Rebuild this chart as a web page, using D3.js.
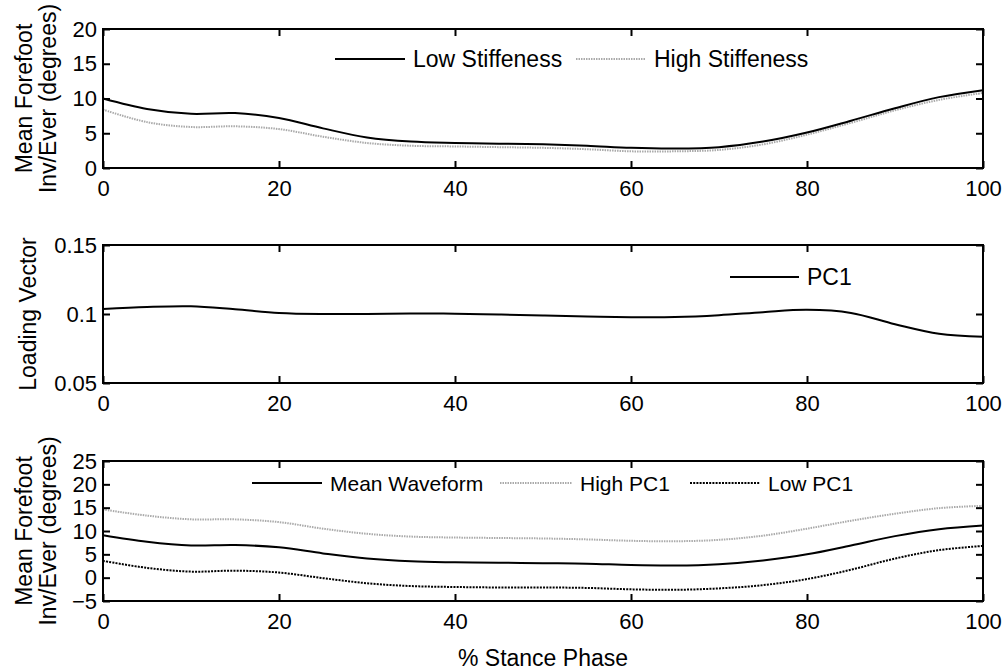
<!DOCTYPE html>
<html>
<head>
<meta charset="utf-8">
<script src="https://cdn.jsdelivr.net/npm/d3@7"></script>
<style>
body { margin: 0; background: #fff; }
text { font-family: "Liberation Sans", Arial, sans-serif; fill: #000; }
</style>
</head>
<body>
<div id="graph"></div>
<script>
// % stance phase
var stance = [0,5,10,15,20,25,30,35,40,45,50,55,60,65,70,75,80,85,90,95,100];

// panel 1
var lowStiff  = [10.0,8.5,7.8,7.9,7.2,5.7,4.4,3.8,3.6,3.5,3.4,3.2,2.9,2.8,3.0,3.8,5.1,6.8,8.6,10.2,11.2];
var highStiff = [8.4,6.6,5.9,6.0,5.6,4.5,3.6,3.2,3.1,3.0,2.9,2.7,2.4,2.4,2.6,3.4,4.8,6.5,8.3,9.8,10.8];

// panel 2
var pc1 = [0.1036,0.1051,0.1056,0.1034,0.1008,0.1000,0.1000,0.1003,0.1002,0.0996,0.0989,0.0982,0.0977,0.0978,0.0991,0.1013,0.1030,0.1008,0.0926,0.0857,0.0836];

// panel 3
var meanWave = [9.1,7.7,6.9,7.0,6.5,5.2,4.1,3.5,3.3,3.2,3.1,3.0,2.7,2.6,2.9,3.7,5.0,6.9,8.9,10.4,11.2];
var highPC1  = [14.6,13.3,12.5,12.5,11.9,10.5,9.4,8.8,8.6,8.5,8.4,8.2,7.9,7.8,8.1,9.0,10.5,12.2,13.7,14.9,15.4];
var lowPC1   = [3.6,2.1,1.3,1.5,1.1,-0.1,-1.2,-1.8,-2.0,-2.1,-2.1,-2.2,-2.5,-2.6,-2.3,-1.6,-0.3,1.7,4.1,5.9,6.8];

var xTicks = [0,20,40,60,80,100];
var yTicks1 = [0,5,10,15,20];
var yTicks2 = [0.05,0.1,0.15];
var yTicks3 = [-5,0,5,10,15,20,25];

var solid = {stroke:"#000", dash:null};
var dotted = {stroke:"#aaa", dash:"1.5,1"};
var dashed = {stroke:"#000", dash:"2,1.2"};

var svg = d3.select("#graph").append("svg")
	.attr("width",1008)
	.attr("height",672);

var x = d3.scaleLinear().domain([0,100]).range([103,983]);

function panel(top, bottom, yDomain, yTicks, yFmt, labels, series, legend, legendY) {
	var y = d3.scaleLinear().domain(yDomain).range([bottom, top]);
	var g = svg.append("g");

	// lines
	var line = d3.line()
		.x(function(d,i){ return x(stance[i]); })
		.y(function(d){ return y(d); })
		.curve(d3.curveCatmullRom);
	series.forEach(function(s){
		g.append("path")
			.attr("d", line(s.data))
			.attr("fill","none")
			.attr("stroke", s.style.stroke)
			.attr("stroke-width", 2)
			.attr("stroke-dasharray", s.style.dash);
	});

	// axes with inner ticks on all sides
	g.append("g").attr("transform","translate(0,"+bottom+")")
		.call(d3.axisBottom(x).tickValues(xTicks).tickSizeInner(-7).tickSizeOuter(0).tickPadding(12));
	g.append("g").attr("transform","translate(0,"+top+")")
		.call(d3.axisTop(x).tickValues(xTicks).tickSizeInner(-7).tickSizeOuter(0).tickFormat(""));
	g.append("g").attr("transform","translate(103,0)")
		.call(d3.axisLeft(y).tickValues(yTicks).tickSizeInner(-7).tickSizeOuter(0).tickPadding(6).tickFormat(yFmt));
	g.append("g").attr("transform","translate(983,0)")
		.call(d3.axisRight(y).tickValues(yTicks).tickSizeInner(-7).tickSizeOuter(0).tickFormat(""));
	g.selectAll(".domain").remove();
	g.selectAll(".tick line").attr("stroke","#000").attr("stroke-width",2);
	g.selectAll(".tick text").attr("font-size",22).attr("font-family","'Liberation Sans', Arial, sans-serif");

	g.append("rect")
		.attr("x",103).attr("y",top)
		.attr("width",880).attr("height",bottom-top)
		.attr("fill","none").attr("stroke","#000").attr("stroke-width",2);

	// y label
	var cy = (top+bottom)/2;
	labels.forEach(function(l){
		g.append("text")
			.attr("transform","translate("+l.x+","+cy+") rotate(-90)")
			.attr("text-anchor","middle")
			.attr("dominant-baseline","central")
			.attr("font-size",23)
			.text(l.text);
	});

	// legend
	legend.forEach(function(l){
		g.append("line")
			.attr("x1",l.x1).attr("x2",l.x2)
			.attr("y1",legendY).attr("y2",legendY)
			.attr("stroke",l.style.stroke)
			.attr("stroke-width",2)
			.attr("stroke-dasharray",l.style.dash);
		g.append("text")
			.attr("x",l.x2+8).attr("y",legendY)
			.attr("dominant-baseline","central")
			.attr("font-size",l.size)
			.text(l.text);
	});
}

panel(29, 168, [0,20], yTicks1, d3.format("d"),
	[{x:24,text:"Mean Forefoot"},{x:48,text:"Inv/Ever (degrees)"}],
	[{data:highStiff,style:dotted},{data:lowStiff,style:solid}],
	[{x1:335,x2:405,text:"Low Stiffeness",style:solid,size:23},{x1:576,x2:646,text:"High Stiffeness",style:dotted,size:23}],
	59);

panel(245, 383, [0.05,0.15], yTicks2, function(d){ return d3.format("")(+d.toFixed(2)); },
	[{x:28,text:"Loading Vector"}],
	[{data:pc1,style:solid}],
	[{x1:730,x2:799,text:"PC1",style:solid,size:23}],
	277);

panel(461, 601, [-5,25], yTicks3, d3.format("d"),
	[{x:24,text:"Mean Forefoot"},{x:48,text:"Inv/Ever (degrees)"}],
	[{data:highPC1,style:dotted},{data:lowPC1,style:dashed},{data:meanWave,style:solid}],
	[{x1:252,x2:322,text:"Mean Waveform",style:solid,size:21},{x1:500,x2:572,text:"High PC1",style:dotted,size:21},{x1:690,x2:760,text:"Low PC1",style:dashed,size:21}],
	483);

svg.append("text")
	.attr("x",543).attr("y",658)
	.attr("text-anchor","middle")
	.attr("dominant-baseline","central")
	.attr("font-size",23)
	.text("% Stance Phase");
</script>
</body>
</html>
